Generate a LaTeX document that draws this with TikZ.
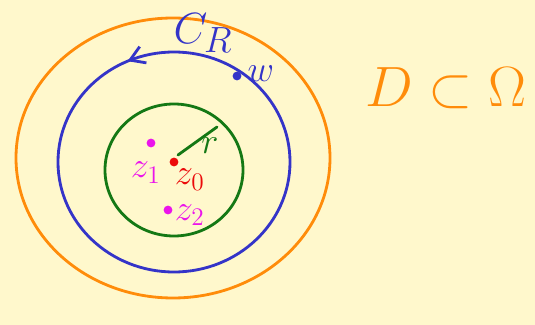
\documentclass[tikz,border=0pt]{standalone}
\usepackage{amsmath, amssymb}
\usetikzlibrary{arrows.meta, positioning, decorations.markings}
\usepackage{xcolor}
\definecolor{paper}{RGB}{255,248,204}
\definecolor{pen orange}{RGB}{255,140,10}
\definecolor{pen blue}{RGB}{52,52,200}
\definecolor{pen green}{RGB}{20,120,20}
\definecolor{pen pink}{RGB}{235,20,235}
\definecolor{pen red}{RGB}{235,10,10}

\begin{document}
\begin{tikzpicture}[
    x=0.02cm, y=0.02cm,
    pen/.style={line width=1.6pt, line cap=round},
    dot/.style={circle, fill, inner sep=0pt, minimum size=5pt},
    lbl/.style={font=\huge, inner sep=0pt}
]
\fill[paper] (0,0) rectangle (535,325);
\useasboundingbox (0,0) rectangle (535,325);
\coordinate (c) at (174,163);
% curves
\draw[pen, pen orange] (173,167) ellipse [x radius=157, y radius=140];
\draw[pen, pen blue, postaction={decorate}, decoration={markings,
    mark=at position 0.317 with {\arrow{Straight Barb[length=8pt, width=10pt]}}}]
    (c) ellipse [x radius=116, y radius=110];
\draw[pen, pen green] (174,155) ellipse [x radius=69, y radius=66];
% points
\node (z0) [dot, pen red] at (c) {};
\node (z1) [dot, pen pink] at (151,182) {};
\node (z2) [dot, pen pink] at (168,115) {};
\node (w) [dot, pen blue] at (237,249) {};
\coordinate (rend) at (217,198);
\draw[pen, pen green] (178,170) -- (rend);
% labels
\node (z0l) [lbl, pen red, below=1pt of z0, xshift=9pt] {$z_0$};
\node (z1l) [lbl, pen pink, below=8pt of z1, xshift=-3pt] {$z_1$};
\node (z2l) [lbl, pen pink, right=1pt of z2, yshift=-3pt] {$z_2$};
\node (wl) [lbl, pen blue, above right=-5pt and 4pt of w] {$w$};
\node (rl) [lbl, pen green, below=6pt of rend, xshift=-4pt] {$r$};
\node (cr) [pen blue, font=\Huge] at (203,292) {$C_R$};
\node (dom) [pen orange, font=\Huge, scale=1.3, transform shape] at (446,237) {$D\subset\Omega$};
\end{tikzpicture}
\end{document}
